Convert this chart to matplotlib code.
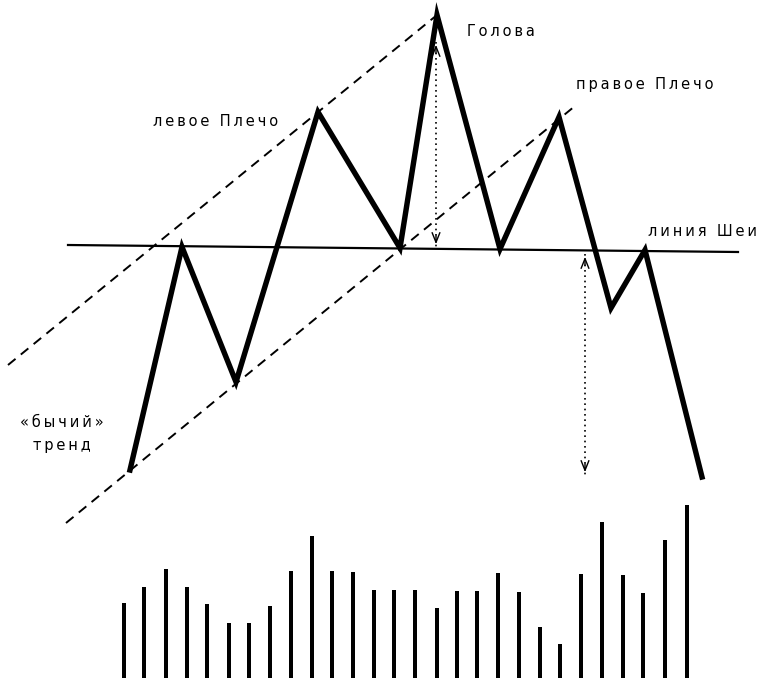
import matplotlib.pyplot as plt

# price path (pixel-like units, y grows downward)
price_x = [130, 182, 236, 318, 400, 437, 500, 559, 611, 645, 702]
price_y = [470, 247, 382, 112, 248, 15, 249, 117, 308, 250, 477]

# neckline
neck_x = [68, 738]
neck_y = [245, 252]

# trend channel (dashed)
upper_x = [8, 437]
upper_y = [365, 15]
lower_x = [66, 575]
lower_y = [523, 106]

# measured moves (dotted arrows): x, top, bottom
head_arrow = (436, 42, 247)
target_arrow = (585, 254, 475)

# volume bars
vol_x = [124, 144, 166, 187, 207, 229, 249, 270, 291, 312, 332, 353, 374,
         394, 415, 437, 457, 477, 498, 519, 540, 560, 581, 602, 623, 643, 665, 687]
vol_top = [603, 587, 569, 587, 604, 623, 623, 606, 571, 536, 571, 572, 590,
           590, 590, 608, 591, 591, 573, 592, 627, 644, 574, 522, 575, 593, 540, 505]
vol_base = 678

labels = {
    'Голова': (467, 32),
    'правое Плечо': (576, 85),
    'левое Плечо': (153, 122),
    'линия Шеи': (648, 231),
}

def spaced(s):
    return '\u2009'.join(s)

fig = plt.figure(figsize=(7.63, 6.81), dpi=100)
ax = fig.add_axes([0, 0, 1, 1])
ax.set_xlim(0, 763)
ax.set_ylim(681, 0)
ax.axis('off')

ax.plot(neck_x, neck_y, color='black', lw=1.6)
ax.plot(upper_x, upper_y, color='black', lw=1.4, ls=(0, (5, 3.5)))
ax.plot(lower_x, lower_y, color='black', lw=1.4, ls=(0, (5, 3.5)))
ax.plot(price_x, price_y, color='black', lw=3.9, solid_joinstyle='miter')

for x, top, bot in [head_arrow, target_arrow]:
    ax.plot([x, x], [top, bot], color='black', lw=1.2, ls=(0, (1, 2.2)))
    ax.annotate('', xy=(x, top), xytext=(x, top + 14),
                arrowprops=dict(arrowstyle='->,head_length=0.7,head_width=0.28', lw=1, color='black'))
    ax.annotate('', xy=(x, bot), xytext=(x, bot - 14),
                arrowprops=dict(arrowstyle='->,head_length=0.7,head_width=0.28', lw=1, color='black'))

heights = [vol_base - t for t in vol_top]
ax.bar(vol_x, heights, bottom=vol_top, width=4.8, color='black')

for txt, (x, y) in labels.items():
    ax.text(x, y, spaced(txt), fontsize=10.5, ha='left', va='center', family='DejaVu Sans')
ax.text(62, 434, spaced('«бычий»') + '\n' + spaced('тренд'), fontsize=10.5,
        ha='center', va='center', linespacing=1.6, family='DejaVu Sans')

fig.savefig('out.png', dpi=100)
